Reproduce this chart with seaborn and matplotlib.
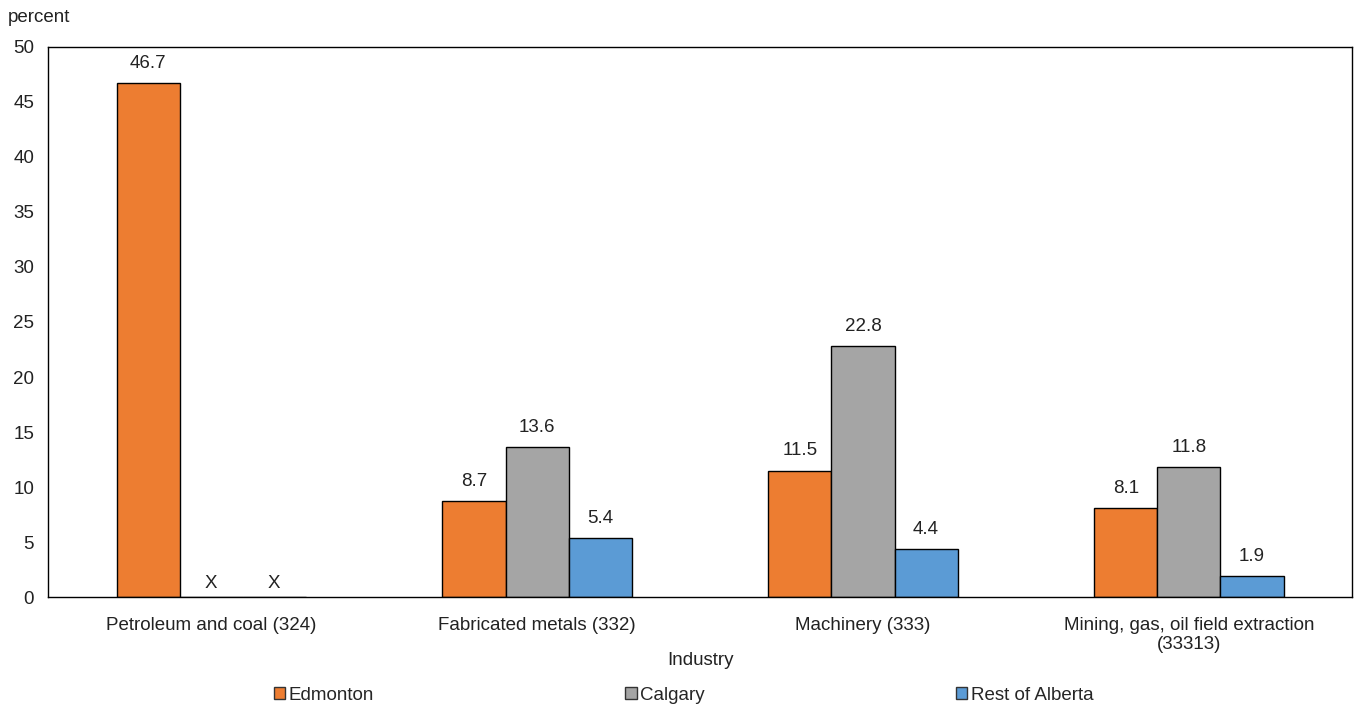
import pandas as pd
import seaborn as sns
import matplotlib.pyplot as plt
import numpy as np

# Data (NaN = suppressed, shown as "X")
industries = ['Petroleum and coal (324)', 'Fabricated metals (332)', 'Machinery (333)',
              'Mining, gas, oil field extraction\n(33313)']
regions = ['Edmonton', 'Calgary', 'Rest of Alberta']
edmonton = [46.7, 8.7, 11.5, 8.1]
calgary = [np.nan, 13.6, 22.8, 11.8]
rest_of_alberta = [np.nan, 5.4, 4.4, 1.9]
colors = ['#ED7D31', '#A5A5A5', '#5B9BD5']

df = pd.DataFrame({'Industry': industries * 3,
                   'Region': np.repeat(regions, len(industries)),
                   'percent': edmonton + calgary + rest_of_alberta})
df['suppressed'] = df['percent'].isna()
df['value'] = df['percent'].fillna(0)

sns.set_style('white')
plt.rcParams['font.family'] = ['Liberation Sans', 'DejaVu Sans']
fs = 13.5
txt = '#222222'

fig, ax = plt.subplots(figsize=(13.54, 7.10), dpi=100)
fig.subplots_adjust(left=0.0355, right=0.9985, top=0.934, bottom=0.159)

sns.barplot(data=df, x='Industry', y='value', hue='Region', hue_order=regions,
            palette=colors, saturation=1, width=0.58, edgecolor='black', linewidth=1,
            errorbar=None, ax=ax, legend=True)

# Value labels, and "X" for suppressed figures
for cont, reg in zip(ax.containers, regions):
    sub = df[df['Region'] == reg]
    vals = [('' if s else f'{v:.1f}') for v, s in zip(sub['value'], sub['suppressed'])]
    xs = [('X' if s else '') for s in sub['suppressed']]
    ax.bar_label(cont, labels=vals, padding=8, fontsize=fs, color=txt)
    ax.bar_label(cont, labels=xs, padding=4, fontsize=fs, color=txt)

ax.set_ylim(0, 50)
ax.set_yticks(range(0, 51, 5))
ax.tick_params(axis='y', length=0, labelsize=fs, colors=txt, pad=10)
ax.tick_params(axis='x', length=0, labelsize=fs, colors=txt, pad=14)
ax.set_xlabel('Industry', fontsize=fs, labelpad=-1, color=txt)
ax.set_ylabel('')
fig.text(0.006, 0.975, 'percent', fontsize=fs, va='center', ha='left', color=txt)

for sp in ax.spines.values():
    sp.set_visible(True)
    sp.set_color('black')
    sp.set_linewidth(1)

ax.legend_.remove()
handles = [plt.Rectangle((0, 0), 1, 1, facecolor=c, edgecolor='#333333', linewidth=1) for c in colors]
fig.legend(handles, regions, loc='center', bbox_to_anchor=(0.505, 0.021), ncol=3,
           frameon=False, fontsize=fs, handlelength=0.6, handleheight=0.6,
           handletextpad=0.2, columnspacing=13.4)

fig.savefig('out.png', dpi=100)
